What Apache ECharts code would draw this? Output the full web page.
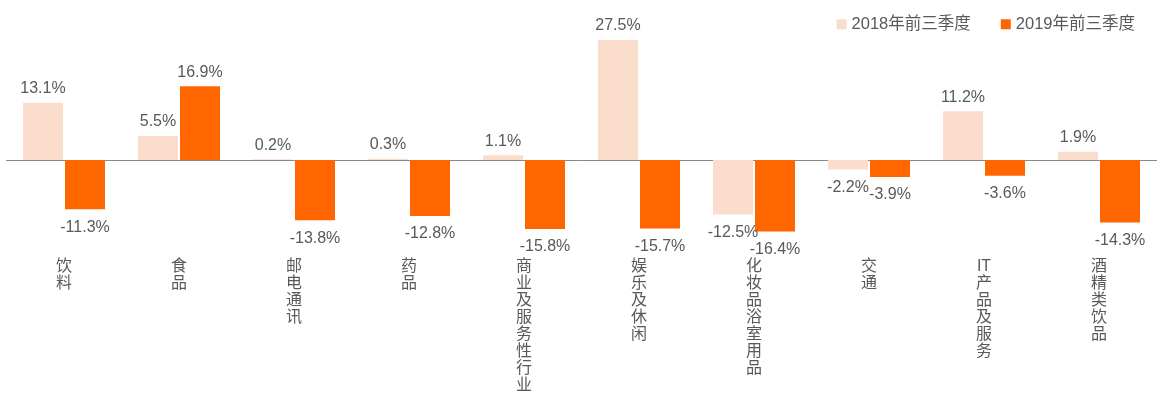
<!DOCTYPE html>
<html><head><meta charset="utf-8">
<script src="https://cdn.jsdelivr.net/npm/echarts@6/dist/echarts.min.js"></script>
<style>html,body{margin:0;padding:0;background:#fff}#c{width:1160px;height:395px}</style>
</head><body><div id="c"></div>
<script>
const categories = ['饮料','食品','邮电通讯','药品','商业及服务性行业','娱乐及休闲','化妆品浴室用品','交通','IT产品及服务','酒精类饮品'];
const seriesNames = ['2018年前三季度','2019年前三季度'];
const values2018 = [13.1, 5.5, 0.2, 0.3, 1.1, 27.5, -12.5, -2.2, 11.2, 1.9];
const values2019 = [-11.3, 16.9, -13.8, -12.8, -15.8, -15.7, -16.4, -3.9, -3.6, -14.3];

const FONT = '"Liberation Sans","Noto Sans CJK SC",sans-serif';
const TXT = '#595959';
const colors = ['#FBDDCB', '#FF6600'];

function mkSeries(name, vals, color) {
  return {
    name: name, type: 'bar', xAxisIndex: 0,
    barWidth: 40, barGap: '5%',
    itemStyle: { color: color },
    data: vals.map(v => ({
      value: v,
      label: { position: v >= 0 ? 'top' : 'bottom', distance: v >= 0 ? 6 : 10 }
    })),
    label: { show: true, formatter: p => p.value.toFixed(1) + '%', color: TXT, fontSize: 16, fontFamily: FONT }
  };
}

const chart = echarts.init(document.getElementById('c'));
chart.setOption({
  animation: false,
  color: colors,
  textStyle: { fontFamily: FONT },
  legend: {
    data: seriesNames, right: 20, top: 11, itemWidth: 10, itemHeight: 10, itemGap: 30,
    icon: 'rect', textStyle: { color: TXT, fontSize: 16.5, fontFamily: FONT }
  },
  grid: { left: 6.5, right: 3.5, top: 29.1, bottom: 147.7, containLabel: false, outerBoundsMode: 'none' },
  xAxis: [
    { type: 'category', data: categories, axisLine: { onZero: true, lineStyle: { color: '#888', width: 1 } },
      axisTick: { show: false }, axisLabel: { show: false } },
    { type: 'category', data: categories, position: 'bottom', axisLine: { show: false }, axisTick: { show: false },
      axisLabel: { interval: 0, margin: 11, color: TXT, fontSize: 16, lineHeight: 17, fontFamily: FONT,
        formatter: v => (v.match(/IT|./g) || []).join('\n') } }
  ],
  yAxis: { type: 'value', min: -20, max: 30, show: false, splitLine: { show: false } },
  series: [ mkSeries(seriesNames[0], values2018, colors[0]), mkSeries(seriesNames[1], values2019, colors[1]) ]
});
</script></body></html>
